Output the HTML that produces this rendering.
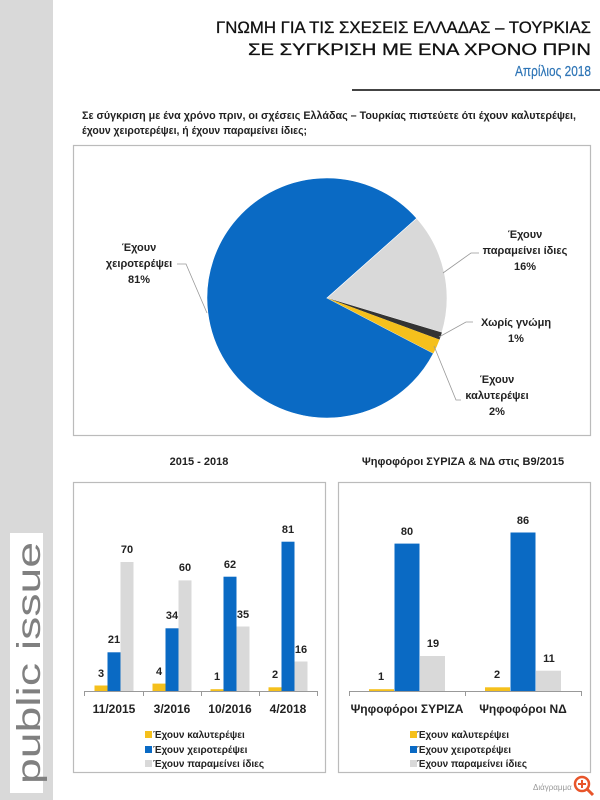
<!DOCTYPE html>
<html><head><meta charset="utf-8"><style>
html,body{margin:0;padding:0;background:#fff;width:600px;height:800px;overflow:hidden}
svg{display:block}
text{font-family:"Liberation Sans",sans-serif}
.b{font-weight:bold;font-size:11px;fill:#222}
</style></head><body>
<svg width="600" height="800" viewBox="0 0 600 800" xmlns="http://www.w3.org/2000/svg">
<rect x="0" y="0" width="600" height="800" fill="#fff"/>
<rect x="0" y="0" width="53" height="800" fill="#d9d9d9"/>
<rect x="10" y="533" width="33" height="260" fill="#fff"/>
<text transform="translate(40,784) rotate(-90)" font-size="33" fill="#808080" textLength="242" lengthAdjust="spacingAndGlyphs">public issue</text>

<text x="591" y="33" text-anchor="end" font-size="17" fill="#111" stroke="#111" stroke-width="0.3" textLength="375" lengthAdjust="spacingAndGlyphs">ΓΝΩΜΗ ΓΙΑ ΤΙΣ ΣΧΕΣΕΙΣ ΕΛΛΑΔΑΣ – ΤΟΥΡΚΙΑΣ</text>
<text x="591" y="55" text-anchor="end" font-size="17" fill="#111" stroke="#111" stroke-width="0.3" textLength="343" lengthAdjust="spacingAndGlyphs">ΣΕ ΣΥΓΚΡΙΣΗ ΜΕ ΕΝΑ ΧΡΟΝΟ ΠΡΙΝ</text>
<text x="591" y="76" text-anchor="end" font-size="15" fill="#2e75b6" stroke="#2e75b6" stroke-width="0.2" textLength="76" lengthAdjust="spacingAndGlyphs">Απρίλιος 2018</text>
<rect x="352" y="89" width="248" height="2" fill="#444"/>

<text class="b" x="82" y="119" textLength="494" lengthAdjust="spacingAndGlyphs">Σε σύγκριση με ένα χρόνο πριν, οι σχέσεις Ελλάδας – Τουρκίας πιστεύετε ότι έχουν καλυτερέψει,</text>
<text class="b" x="82" y="134" textLength="225" lengthAdjust="spacingAndGlyphs">έχουν χειροτερέψει, ή έχουν παραμείνει ίδιες;</text>

<rect x="73.5" y="145.5" width="517" height="290" fill="#fff" stroke="#bbb" stroke-width="1.2"/>
<path d="M327,298 L433.4,353.4 A120,120 0 1,1 416.7,218.3 Z" fill="#0a6ac4" stroke="#fff" stroke-width="0.6"/>
<path d="M327,298 L416.7,218.3 A120,120 0 0,1 441.9,332.5 Z" fill="#d9d9d9" stroke="#fff" stroke-width="0.6"/>
<path d="M327,298 L441.9,332.5 A120,120 0 0,1 439.5,339.6 Z" fill="#333"/>
<path d="M327,298 L439.5,339.6 A120,120 0 0,1 433.4,353.4 Z" fill="#f5c01c"/>
<g stroke="#999" stroke-width="0.8" fill="none">
<polyline points="177,264 186,264 207,313"/>
<polyline points="443,273 471,253 479,253"/>
<polyline points="439,337 466,322 473,322"/>
<polyline points="434,346 456,400 461,400"/>
</g>
<g text-anchor="middle">
<text x="139" y="251" class="b">Έχουν</text>
<text x="139" y="267" class="b">χειροτερέψει</text>
<text x="139" y="283" class="b">81%</text>
<text x="525" y="238" class="b">Έχουν</text>
<text x="525" y="254" class="b">παραμείνει ίδιες</text>
<text x="525" y="270" class="b">16%</text>
<text x="516" y="326" class="b">Χωρίς γνώμη</text>
<text x="516" y="342" class="b">1%</text>
<text x="497" y="383" class="b">Έχουν</text>
<text x="497" y="399" class="b">καλυτερέψει</text>
<text x="497" y="415" class="b">2%</text>
</g>

<text class="b" x="199" y="465" text-anchor="middle">2015 - 2018</text>
<text class="b" x="463" y="465" text-anchor="middle">Ψηφοφόροι ΣΥΡΙΖΑ &amp; ΝΔ στις Β9/2015</text>

<rect x="73.5" y="482.5" width="252" height="290" fill="#fff" stroke="#bbb" stroke-width="1.2"/>
<rect x="338.5" y="482.5" width="252" height="290" fill="#fff" stroke="#bbb" stroke-width="1.2"/>

<g>
<rect x="94.5" y="685.5" width="13" height="5.5" fill="#f5c01c"/>
<rect x="107.5" y="652.3" width="13" height="38.7" fill="#0a6ac4"/>
<rect x="120.5" y="562" width="13" height="129" fill="#d9d9d9"/>
<rect x="152.5" y="683.6" width="13" height="7.4" fill="#f5c01c"/>
<rect x="165.5" y="628.3" width="13" height="62.7" fill="#0a6ac4"/>
<rect x="178.5" y="580.4" width="13" height="110.6" fill="#d9d9d9"/>
<rect x="210.5" y="689.2" width="13" height="1.8" fill="#f5c01c"/>
<rect x="223.5" y="576.7" width="13" height="114.3" fill="#0a6ac4"/>
<rect x="236.5" y="626.5" width="13" height="64.5" fill="#d9d9d9"/>
<rect x="268.5" y="687.3" width="13" height="3.7" fill="#f5c01c"/>
<rect x="281.5" y="541.7" width="13" height="149.3" fill="#0a6ac4"/>
<rect x="294.5" y="661.5" width="13" height="29.5" fill="#d9d9d9"/>
</g>
<g text-anchor="middle">
<text class="b" x="101" y="677">3</text><text class="b" x="114" y="643">21</text><text class="b" x="127" y="553">70</text>
<text class="b" x="159" y="675">4</text><text class="b" x="172" y="619">34</text><text class="b" x="185" y="571">60</text>
<text class="b" x="217" y="680">1</text><text class="b" x="230" y="568">62</text><text class="b" x="243" y="618">35</text>
<text class="b" x="275" y="678">2</text><text class="b" x="288" y="533">81</text><text class="b" x="301" y="653">16</text>
</g>
<g stroke="#999" stroke-width="1">
<line x1="84" y1="691.5" x2="318" y2="691.5"/>
<line x1="84.5" y1="691" x2="84.5" y2="696"/><line x1="143.5" y1="691" x2="143.5" y2="696"/><line x1="201.5" y1="691" x2="201.5" y2="696"/><line x1="259.5" y1="691" x2="259.5" y2="696"/><line x1="317.5" y1="691" x2="317.5" y2="696"/>
<line x1="349" y1="691.5" x2="582" y2="691.5"/>
<line x1="349.5" y1="691" x2="349.5" y2="696"/><line x1="465.5" y1="691" x2="465.5" y2="696"/><line x1="581.5" y1="691" x2="581.5" y2="696"/>
</g>
<g font-weight="bold" font-size="12" fill="#222" text-anchor="middle">
<text x="114" y="713">11/2015</text><text x="172" y="713">3/2016</text><text x="230" y="713">10/2016</text><text x="288" y="713">4/2018</text>
<text x="407" y="713">Ψηφοφόροι ΣΥΡΙΖΑ</text><text x="523" y="713">Ψηφοφόροι ΝΔ</text>
</g>

<rect x="369" y="689.2" width="25" height="1.8" fill="#f5c01c"/>
<rect x="394.5" y="543.6" width="25" height="147.4" fill="#0a6ac4"/>
<rect x="420" y="656" width="25" height="35" fill="#d9d9d9"/>
<rect x="485" y="687.3" width="25" height="3.7" fill="#f5c01c"/>
<rect x="510.5" y="532.5" width="25" height="158.5" fill="#0a6ac4"/>
<rect x="536" y="670.7" width="25" height="20.3" fill="#d9d9d9"/>
<g text-anchor="middle">
<text class="b" x="381" y="680">1</text><text class="b" x="407" y="535">80</text><text class="b" x="433" y="647">19</text>
<text class="b" x="497" y="678">2</text><text class="b" x="523" y="524">86</text><text class="b" x="549" y="662">11</text>
</g>

<g font-weight="bold" font-size="10" fill="#222">
<rect x="145" y="731" width="7" height="7" fill="#f5c01c"/><text x="153" y="738">Έχουν καλυτερέψει</text>
<rect x="145" y="746" width="7" height="7" fill="#0a6ac4"/><text x="153" y="753">Έχουν χειροτερέψει</text>
<rect x="145" y="760" width="7" height="7" fill="#d9d9d9"/><text x="153" y="767">Έχουν παραμείνει ίδιες</text>
<rect x="410" y="731" width="7" height="7" fill="#f5c01c"/><text x="417" y="738" textLength="92" lengthAdjust="spacingAndGlyphs">Έχουν καλυτερέψει</text>
<rect x="410" y="746" width="7" height="7" fill="#0a6ac4"/><text x="417" y="753" textLength="94" lengthAdjust="spacingAndGlyphs">Έχουν χειροτερέψει</text>
<rect x="410" y="760" width="7" height="7" fill="#d9d9d9"/><text x="417" y="767" textLength="110" lengthAdjust="spacingAndGlyphs">Έχουν παραμείνει ίδιες</text>
</g>

<text x="533" y="790" font-size="8" fill="#999">Διάγραμμα</text>
<circle cx="582" cy="784" r="7" fill="none" stroke="#e8552a" stroke-width="2.5"/>
<line x1="587" y1="789" x2="593" y2="795" stroke="#e8552a" stroke-width="3"/>
<path d="M582,780 v8 M578,784 h8" stroke="#e8552a" stroke-width="2"/>
</svg>
</body></html>
